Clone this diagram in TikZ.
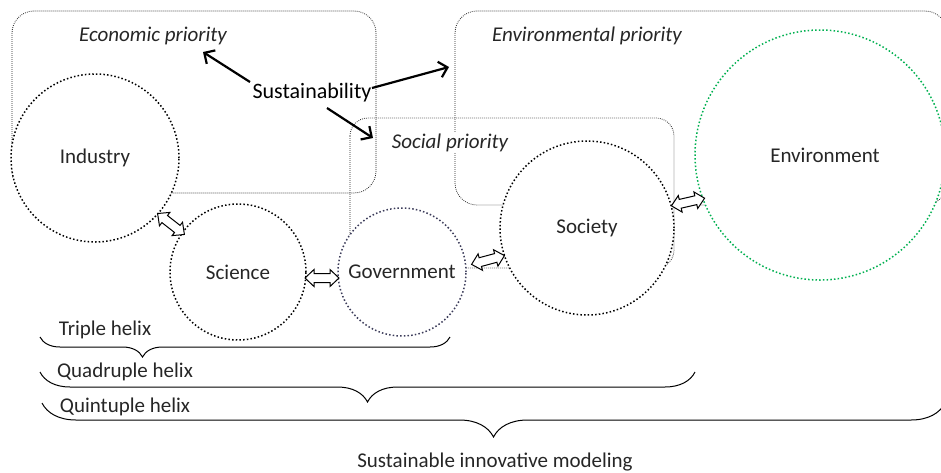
\documentclass[tikz,border=0pt]{standalone}
\usepackage{fontspec}
\setmainfont{Carlito}
\usetikzlibrary{decorations.pathreplacing,arrows.meta}
\definecolor{envgreen}{RGB}{0,176,80}
\definecolor{govcol}{RGB}{60,60,90}
\definecolor{txt}{RGB}{38,38,38}
\begin{document}
\begin{tikzpicture}[x=1pt,y=-1pt,
 boxline/.style={draw=black!85, line width=0.8pt, dash pattern=on 0.8pt off 1.2pt, rounded corners=22pt},
 circ/.style={circle, draw=black, fill=white, line width=1.5pt, dash pattern=on 1.5pt off 2.2pt, inner sep=0pt, text=txt, font=\fontsize{21}{23}\selectfont},
 lbl/.style={font=\fontsize{21}{23}\selectfont, text=txt, inner sep=1pt},
 prio/.style={font=\fontsize{21}{23}\selectfont\itshape, text=txt, fill=white, inner sep=1pt},
 dblarr/.pic={\draw[draw=black, fill=white, line width=1pt, line join=miter]
   (-17,0) -- (-8,-8.5) -- (-8,-4.5) -- (8,-4.5) -- (8,-8.5) -- (17,0)
   -- (8,8.5) -- (8,4.5) -- (-8,4.5) -- (-8,8.5) -- cycle;},
 sarrow/.style={line width=2.2pt, -{Straight Barb[length=8pt,width=16pt]}},
 brc/.style={decorate, line width=1pt}
]
\useasboundingbox (0,0) rectangle (941,472);
% priority boxes
\draw[boxline] (12,11) rectangle (376,193);
\draw[boxline] (455,11) rectangle (947,205);
\draw[boxline, rounded corners=18pt] (350,118) rectangle (674,268);
% priority labels
\node[prio] (econ) at (153,36) {Economic priority};
\node[prio] (envp) at (587,36) {Environmental priority};
\node[prio] (socp) at (450,143) {Social priority};
% circles
\node[circ, minimum size=168pt] (industry) at (95,158) {Industry};
\node[circ, minimum size=136pt] (science) at (238,272) {Science};
\node[circ, draw=govcol, minimum size=128pt] (gov) at (402,272) {Government};
\node[circ, minimum size=174pt] (society) at (587,228) {Society};
\node[circ, draw=envgreen, minimum size=250pt] (env) at (820,155) {};
\node[lbl] (envlbl) at (825,155) {Environment};
% double arrows
\pic[rotate=-38] at (171,224) {dblarr};
\pic at (322,278) {dblarr};
\pic[rotate=15] at (488,260) {dblarr};
\pic[rotate=13] at (688,202) {dblarr};
% sustainability
\node[font=\fontsize{22}{24}\selectfont, text=black, inner sep=1pt] (sust) at (312,93) {Sustainability};
\coordinate (s1) at (250,82);
\coordinate (t1) at (203,52);
\coordinate (s2) at (372,88);
\coordinate (t2) at (449,67);
\coordinate (s3) at (327,108);
\coordinate (t3) at (373,138);
\draw[sarrow] (s1) -- (t1);
\draw[sarrow] (s2) -- (t2);
\draw[sarrow] (s3) -- (t3);
% braces
\coordinate (b1a) at (40,337);
\coordinate (b1b) at (450,337);
\draw[brc, decoration={brace, mirror, amplitude=20pt, aspect=0.25}] (b1a) -- (b1b);
\coordinate (b2a) at (40,372);
\coordinate (b2b) at (695,372);
\draw[brc, decoration={brace, mirror, amplitude=30pt, aspect=0.5}] (b2a) -- (b2b);
\coordinate (b3a) at (42,403);
\coordinate (b3b) at (945,403);
\draw[brc, decoration={brace, mirror, amplitude=34pt, aspect=0.5}] (b3a) -- (b3b);
% brace labels
\node[lbl] (tri) at (105,330) {Triple helix};
\node[lbl] (quad) at (125,372) {Quadruple helix};
\node[lbl] (quin) at (125,407) {Quintuple helix};
\node[lbl] (sim) at (495,462) {Sustainable innovative modeling};
\end{tikzpicture}
\end{document}
